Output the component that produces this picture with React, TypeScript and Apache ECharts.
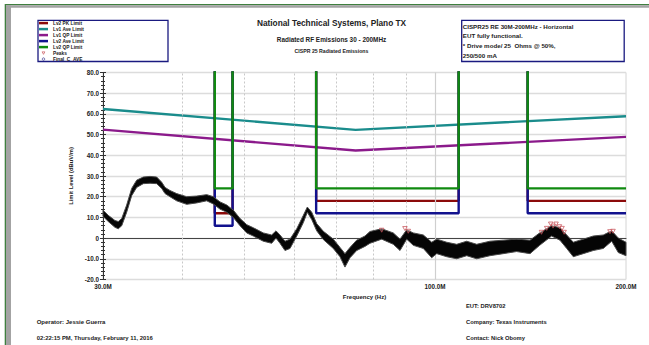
import React, { useEffect, useRef } from "react";
import * as echarts from "echarts";

const FONT = '"Liberation Sans", Arial, sans-serif';
const TEXT_COLOR = "#222";

// Frequency axis range (MHz)
const F_MIN = 30;
const F_MAX = 200;

// Lv1 limits (dBuV/m) at their corner frequencies (MHz)
const lv1Freqs = [30, 75, 200];
const lv1AveLimit = [62.4, 52.3, 58.9];
const lv1QpLimit = [52.4, 42.3, 48.9];

// Lv2 band limits (dBuV/m); outside the bands the limit is off scale
const lv2BandStart = [45, 65, 140];
const lv2BandEnd = [48, 109, 200];
const lv2PkLimit = [12, 18, 18];
const lv2AveLimit = [6, 12, 12];
const lv2QpLimit = [24, 24, 24];
const OFF_SCALE = 150;

// Measured sweep: upper and lower envelope of the trace (MHz, dBuV/m)
const traceFreqs = [
  30.0, 30.58, 31.33, 31.71, 32.11, 32.69, 33.29, 33.9, 34.72, 35.58, 36.45, 37.12, 37.57, 38.25,
  39.19, 40.64, 42.14, 43.7, 44.76, 45.86, 46.99, 48.13, 49.31, 50.53, 51.75, 53.66, 55.32, 56.19,
  57.01, 58.05, 59.12, 60.58, 62.05, 62.95, 63.96, 65.13, 66.71, 69.17, 70.87, 72.16, 73.49, 75.29,
  77.6, 79.02, 82.45, 85.99, 88.11, 90.27, 92.47, 95.88, 98.84, 100.65, 104.37, 108.22, 112.22,
  116.36, 122.1, 128.2, 134.5, 141.2, 146.2, 152.7, 157.4, 161.3, 165.2, 171.3, 177.6, 184.2,
  189.9, 194.5, 200.0,
];
const traceHigh = [
  13.5, 11, 8.5, 8, 9.5, 16, 24, 28, 29.5, 29.8, 29.5, 27, 24.5, 23,
  21.5, 20, 20.3, 21, 20, 17.5, 16, 13.5, 9.5, 6.5, 5, 2.5, 1.5, 3.5,
  1.5, -1.5, -0.5, 4.5, 11, 15, 12.5, 7, 3.3, -0.5, -4.5, -7.5, -4.5, -1,
  1, 3.2, 4.5, 2.5, -0.5, 4, 2.5, 1.5, -2, -0.5, -2, -3, -1.5,
  -3, -1.5, -1, -0.5, -1, 2.5, 6, 5, 1.5, -2, -0.5, 1, 1.5,
  3.5, 0, -2,
];
const traceLow = [
  10.5, 8, 5.2, 4.5, 6, 12.5, 20.5, 24.5, 26.3, 26.5, 26.3, 24, 21.5, 20,
  18, 16.3, 17, 18, 16.5, 14, 12.5, 10, 6, 2.5, 1, -1.5, -2.5, 0,
  -2.5, -6, -5, 1, 7.5, 12.5, 9, 3.5, -0.7, -5, -9, -14, -9.5, -6,
  -4, -2.5, -0.5, -3, -6, -0.5, -3.5, -5, -9.5, -7.5, -9, -10, -8.5,
  -10, -8.5, -7.5, -6.5, -7.5, -3.5, 1, -1, -5, -9, -7.5, -6, -5,
  -1.5, -7, -8.5,
];

// Peak detections
const peakFreqs = [82.45, 89.7, 90.8, 147.2, 150.0, 152.2, 153.5, 155.2, 157.1, 158.6, 159.8, 188.7, 190.8];
const peakLevels = [3.8, 4.6, 3.3, 2.8, 4.7, 6.8, 5.8, 6.8, 5.5, 4.7, 2.8, 3.1, 3.3];

// Frequency grid lines (MHz)
const minorGridFreqs = [40, 50, 60, 70, 80, 90];
const decadeGridFreqs = [100];

const legendNames = [
  "Lv2 PK Limit",
  "Lv1 Ave Limit",
  "Lv1 QP Limit",
  "Lv2 Ave Limit",
  "Lv2 QP Limit",
  "Peaks",
  "Final_C_AVE",
];

const COLORS = {
  lv2Pk: "#8b0a0a",
  lv1Ave: "#1a8c8c",
  lv1Qp: "#8b1a8b",
  lv2Ave: "#12128e",
  lv2Qp: "#108a10",
  peaks: "#c4494f",
  finalAve: "#1a1a80",
};

const headerLines = ["National Technical Systems, Plano TX", "Radiated RF Emissions 30 - 200MHz", "CISPR 25 Radiated Emissions"];
const notesLines = ["CISPR25 RE 30M-200MHz - Horizontal", "EUT fully functional.", "* Drive mode/ 25  Ohms @ 50%,", "250/500 mA"];
const footerLeft = ["Operator: Jessie Guerra", "02:22:15 PM, Thursday, February 11, 2016"];
const footerRight = ["EUT: DRV8702", "Company: Texas Instruments", "Contact: Nick Obomy"];

function bandLine(levels: number[]) {
  const pts: number[][] = [];
  lv2BandStart.forEach((start, i) => {
    const end = lv2BandEnd[i];
    pts.push([start, OFF_SCALE], [start, levels[i]], [end, levels[i]]);
    if (end < F_MAX) pts.push([end, OFF_SCALE]);
  });
  return pts;
}

function zip(xs: number[], ys: number[]) {
  return xs.map((x, i) => [x, ys[i]]);
}

function text(x: number, y: number, str: string, size: number, align = "left") {
  return {
    type: "text",
    x,
    y,
    silent: true,
    style: {
      text: str,
      fontFamily: FONT,
      fontWeight: "bold",
      fontSize: size,
      fill: TEXT_COLOR,
      textAlign: align,
      textVerticalAlign: "middle",
    },
  };
}

export default function App() {
  const ref = useRef<HTMLDivElement>(null);

  useEffect(() => {
    if (!ref.current) return;
    const chart = echarts.init(ref.current, undefined, { renderer: "svg" });

    const limitLine = (name: string, data: number[][], color: string, z: number) => ({
      name,
      type: "line",
      data,
      symbol: "none",
      showSymbol: false,
      clip: true,
      z,
      lineStyle: { color, width: 2.4 },
      itemStyle: { color },
    });

    const option: any = {
      animation: false,
      backgroundColor: "#fff",
      textStyle: { fontFamily: FONT },
      grid: {
        left: 103,
        right: 23,
        top: 72.5,
        height: 207,
        show: true,
        borderColor: "#d4d4d4",
        borderWidth: 1,
      },
      legend: {
        orient: "vertical",
        left: 39,
        top: 20.6,
        padding: 0,
        itemWidth: 9,
        itemHeight: 2.5,
        itemGap: 1,
        selectedMode: false,
        textStyle: {
          fontFamily: FONT,
          fontWeight: "bold",
          fontSize: 4.8,
          lineHeight: 4.9,
          color: TEXT_COLOR,
        },
        data: legendNames.map((name) => {
          if (name === "Peaks")
            return {
              name,
              icon: "path://M0,0L10,0L5,9Z",
              itemStyle: { color: "#fff", borderColor: COLORS.peaks, borderWidth: 0.8 },
            };
          if (name === "Final_C_AVE")
            return {
              name,
              icon: "circle",
              itemStyle: { color: "#fff", borderColor: COLORS.finalAve, borderWidth: 0.8 },
            };
          return { name, icon: "rect" };
        }),
      },
      xAxis: {
        type: "log",
        logBase: 10,
        min: F_MIN,
        max: F_MAX,
        name: "Frequency (Hz)",
        nameLocation: "middle",
        nameGap: 12,
        nameTextStyle: { fontFamily: FONT, fontWeight: "bold", fontSize: 6, color: TEXT_COLOR },
        axisLine: { show: true, lineStyle: { color: "#444", width: 1 } },
        axisTick: { show: false },
        splitLine: { show: false },
        minorSplitLine: { show: false },
        axisLabel: {
          showMinLabel: true,
          showMaxLabel: true,
          margin: 4,
          fontFamily: FONT,
          fontWeight: "bold",
          fontSize: 6.3,
          color: TEXT_COLOR,
          formatter: (v: number) => `${Math.round(v).toFixed(1)}M`,
        },
      },
      yAxis: [
        {
          type: "value",
          min: -20,
          max: 80,
          interval: 10,
          name: "Limit Level (dBuV/m)",
          nameLocation: "middle",
          nameRotate: 90,
          nameGap: 19,
          nameTextStyle: { fontFamily: FONT, fontWeight: "bold", fontSize: 5.8, color: TEXT_COLOR },
          axisLine: { show: true, lineStyle: { color: "#333", width: 1 } },
          axisTick: { show: true, length: 3, lineStyle: { color: "#333" } },
          minorTick: { show: true, splitNumber: 5, length: 2, lineStyle: { color: "#333" } },
          splitLine: { show: true, lineStyle: { color: "#dcdcdc", width: 1.4 } },
          axisLabel: {
            margin: 4,
            fontFamily: FONT,
            fontWeight: "bold",
            fontSize: 6.3,
            color: TEXT_COLOR,
            formatter: (v: number) => (v === 0 ? "0" : v.toFixed(1)),
          },
        },
        {
          type: "value",
          min: -20,
          max: 80,
          interval: 10,
          position: "left",
          axisLine: { show: false },
          axisLabel: { show: false },
          splitLine: { show: false },
          axisTick: { show: true, inside: true, length: 3, lineStyle: { color: "#333" } },
          minorTick: { show: true, splitNumber: 5, length: 2, lineStyle: { color: "#333" } },
        },
      ],
      series: [
        {
          name: "grid-lines",
          type: "line",
          data: [],
          silent: true,
          z: 1,
          markLine: {
            silent: true,
            symbol: "none",
            label: { show: false },
            animation: false,
            data: [
              ...minorGridFreqs.map((f) => ({
                xAxis: f,
                lineStyle: { color: "#c8c8c8", type: [2, 2], width: 1 },
              })),
              ...decadeGridFreqs.map((f) => ({
                xAxis: f,
                lineStyle: { color: "#cfcfcf", type: "solid", width: 1.2 },
              })),
            ],
          },
        },
        limitLine("Lv1 Ave Limit", zip(lv1Freqs, lv1AveLimit), COLORS.lv1Ave, 3),
        limitLine("Lv1 QP Limit", zip(lv1Freqs, lv1QpLimit), COLORS.lv1Qp, 3),
        limitLine("Lv2 PK Limit", bandLine(lv2PkLimit), COLORS.lv2Pk, 4),
        limitLine("Lv2 Ave Limit", bandLine(lv2AveLimit), COLORS.lv2Ave, 5),
        limitLine("Lv2 QP Limit", bandLine(lv2QpLimit), COLORS.lv2Qp, 6),
        {
          name: "Sweep",
          type: "custom",
          z: 8,
          silent: true,
          data: [[traceFreqs[0], traceHigh[0]]],
          renderItem: (_params: any, api: any) => {
            const points: number[][] = [];
            for (let i = 0; i < traceFreqs.length; i++) points.push(api.coord([traceFreqs[i], traceHigh[i]]));
            for (let i = traceFreqs.length - 1; i >= 0; i--) points.push(api.coord([traceFreqs[i], traceLow[i]]));
            return {
              type: "polygon",
              shape: { points },
              style: { fill: "#050505", stroke: "#4a4a4a", lineWidth: 1 },
            };
          },
        },
        {
          name: "Peaks",
          type: "scatter",
          z: 9,
          data: zip(peakFreqs, peakLevels),
          symbol: "path://M0,0L10,0L5,9Z",
          symbolSize: [4.5, 4],
          itemStyle: { color: "rgba(255,255,255,0.35)", borderColor: COLORS.peaks, borderWidth: 0.9 },
        },
        {
          name: "Final_C_AVE",
          type: "scatter",
          z: 9,
          data: [],
          symbol: "emptyCircle",
          itemStyle: { color: COLORS.finalAve },
        },
      ],
      graphic: [
        // window frame
        { type: "rect", silent: true, shape: { x: 5, y: 4, width: 644, height: 1.3 }, style: { fill: "#3f7f3f" } },
        { type: "rect", silent: true, shape: { x: 6, y: 5.3, width: 643, height: 2.5 }, style: { fill: "#a3a3a3" } },
        { type: "rect", silent: true, shape: { x: 4.7, y: 4, width: 1.3, height: 341 }, style: { fill: "#3f7f3f" } },
        { type: "rect", silent: true, shape: { x: 6, y: 5.3, width: 5, height: 340 }, style: { fill: "#a3a3a3" } },
        // legend and notes boxes
        {
          type: "rect",
          silent: true,
          shape: { x: 38, y: 20.3, width: 130, height: 41.2 },
          style: { fill: "none", stroke: "#1a1a80", lineWidth: 1.3 },
        },
        {
          type: "rect",
          silent: true,
          shape: { x: 461.7, y: 20.3, width: 162.5, height: 41.2 },
          style: { fill: "none", stroke: "#1a1a80", lineWidth: 1.3 },
        },
        text(331.5, 22.5, headerLines[0], 8.3, "center"),
        text(331.5, 39, headerLines[1], 6.4, "center"),
        text(331.5, 51, headerLines[2], 5.2, "center"),
        text(462.8, 26.7, notesLines[0], 6.2),
        text(462.8, 35.9, notesLines[1], 6.2),
        text(462.8, 45.7, notesLines[2], 6.2),
        text(462.8, 55.6, notesLines[3], 6.2),
        text(36.7, 321.5, footerLeft[0], 6),
        text(36.7, 338.3, footerLeft[1], 5.9),
        text(466, 305.8, footerRight[0], 5.8),
        text(466, 321.5, footerRight[1], 5.8),
        text(466, 338.3, footerRight[2], 5.8),
      ],
    };

    chart.setOption(option);
    return () => chart.dispose();
  }, []);

  return (
    <div
      ref={ref}
      style={{ position: "fixed", left: 0, top: 0, width: 649, height: 345, background: "#fff" }}
    />
  );
}
